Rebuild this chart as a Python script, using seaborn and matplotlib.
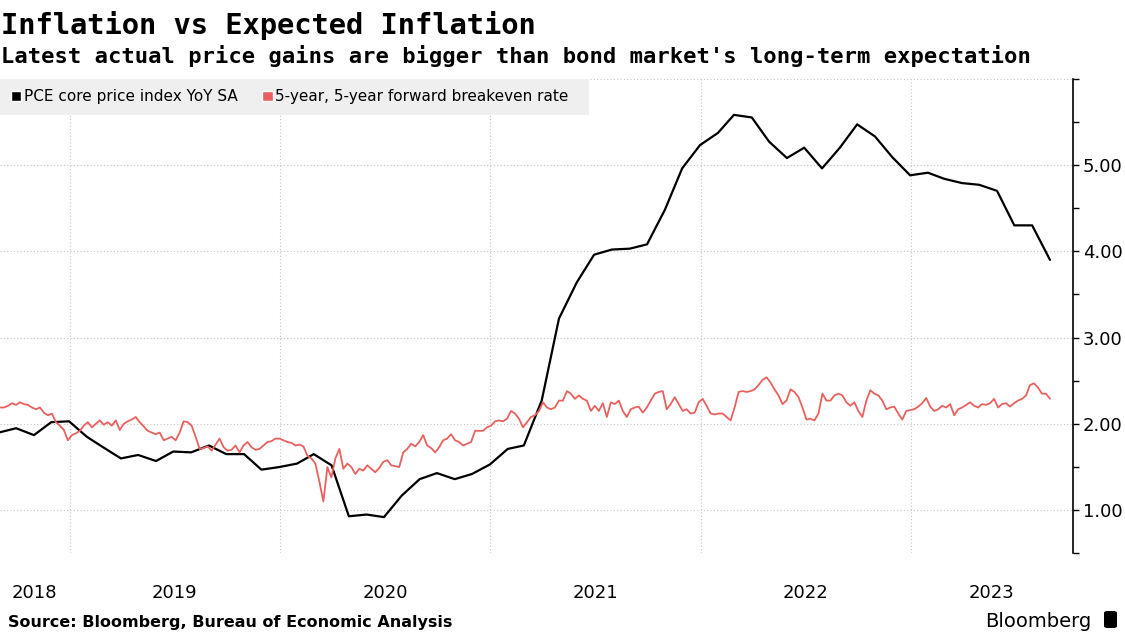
import pandas as pd
import matplotlib
matplotlib.use('Agg')
import matplotlib.pyplot as plt
from matplotlib.patches import Patch, FancyBboxPatch
from matplotlib.ticker import NullFormatter
import seaborn as sns

# PCE core price index YoY SA, monthly Aug 2018 .. Aug 2023 (plotted at month end)
pce_core = [
    1.90, 1.95, 1.87, 2.02, 2.03,
    1.85, 1.73, 1.60, 1.64, 1.57, 1.68, 1.67, 1.75, 1.65, 1.65, 1.47, 1.50,
    1.54, 1.65, 1.52, 0.93, 0.95, 0.92, 1.17, 1.36, 1.43, 1.36, 1.42, 1.53,
    1.71, 1.75, 2.27, 3.22, 3.64, 3.96, 4.02, 4.03, 4.08, 4.48, 4.96, 5.23,
    5.37, 5.58, 5.55, 5.27, 5.08, 5.20, 4.96, 5.20, 5.47, 5.33, 5.09, 4.88,
    4.91, 4.84, 4.79, 4.77, 4.70, 4.30, 4.30, 3.90,
]

# 5-year, 5-year forward breakeven rate, roughly weekly Sep 2018 .. Aug 2023
breakeven = [
    2.19, 2.19, 2.21, 2.24, 2.22, 2.25, 2.23, 2.22, 2.19, 2.17,
    2.19, 2.13, 2.10, 2.12, 2.02, 1.98, 1.93, 1.81, 1.87, 1.89,
    1.92, 1.98, 2.02, 1.96, 2.00, 2.04, 1.99, 2.02, 1.98, 2.04,
    1.93, 2.00, 2.03, 2.05, 2.08, 2.02, 1.97, 1.92, 1.90, 1.88,
    1.90, 1.81, 1.83, 1.85, 1.81, 1.90, 2.03, 2.02, 1.98, 1.85,
    1.71, 1.72, 1.74, 1.69, 1.76, 1.83, 1.73, 1.69, 1.70, 1.75,
    1.67, 1.75, 1.79, 1.73, 1.70, 1.71, 1.75, 1.79, 1.80, 1.83,
    1.83, 1.81, 1.79, 1.78, 1.75, 1.76, 1.74, 1.63, 1.60, 1.54,
    1.33, 1.10, 1.50, 1.38, 1.60, 1.71, 1.48, 1.54, 1.50, 1.42,
    1.48,
    1.46, 1.52, 1.48, 1.44, 1.49, 1.56, 1.58, 1.52, 1.51, 1.50,
    1.67, 1.71, 1.77, 1.74, 1.79, 1.87, 1.75, 1.72, 1.67, 1.73,
    1.81, 1.83, 1.88, 1.81, 1.79, 1.75, 1.77, 1.79, 1.92, 1.92,
    1.92, 1.96, 1.98, 2.03, 2.04, 2.03, 2.06, 2.15, 2.12, 2.06,
    1.96, 2.02, 2.08, 2.10, 2.15, 2.25, 2.19, 2.17, 2.19, 2.27,
    2.27, 2.38, 2.35, 2.29, 2.33, 2.29, 2.27, 2.15, 2.21, 2.15,
    2.24, 2.08, 2.25, 2.23, 2.27, 2.15, 2.08, 2.17, 2.19, 2.20,
    2.13, 2.19, 2.27, 2.35, 2.37, 2.38, 2.17, 2.23, 2.31, 2.23,
    2.15, 2.17, 2.12, 2.13, 2.25, 2.29, 2.21,
    2.12, 2.11, 2.12, 2.12, 2.08, 2.04, 2.19, 2.37, 2.38, 2.37,
    2.38, 2.40, 2.45, 2.51, 2.54, 2.48, 2.40, 2.33, 2.23, 2.27,
    2.40, 2.37, 2.31, 2.19, 2.05, 2.06, 2.04, 2.12, 2.35, 2.27,
    2.27, 2.33, 2.35, 2.33, 2.25, 2.21, 2.25, 2.15, 2.08, 2.27,
    2.39, 2.35, 2.33, 2.27, 2.17, 2.19, 2.20, 2.12, 2.05, 2.15,
    2.16, 2.17, 2.20, 2.24, 2.30, 2.20, 2.15, 2.17, 2.21, 2.19,
    2.23, 2.10, 2.17, 2.19, 2.22, 2.25, 2.21, 2.19, 2.23, 2.22,
    2.24, 2.29, 2.19, 2.23, 2.24, 2.20, 2.24, 2.27, 2.29, 2.33,
    2.45, 2.47, 2.42, 2.35, 2.35, 2.29,
]

years = [2018, 2019, 2020, 2021, 2022, 2023]
y_ticks = [1, 2, 3, 4, 5, 6]
y_labels = ['1.00', '2.00', '3.00', '4.00', '5.00', '']
y_minor = [0.5, 1.5, 2.5, 3.5, 4.5, 5.5]
series_names = ['PCE core price index YoY SA', '5-year, 5-year forward breakeven rate  ']

PINK = '#e8615f'
x_start, x_end = pd.Timestamp('2018-09-02'), pd.Timestamp('2023-10-10')

pce_dates = pd.date_range('2018-09-01', periods=len(pce_core), freq='MS') - pd.Timedelta(days=1)
be_dates = pd.date_range('2018-09-02', '2023-08-31', periods=len(breakeven))

sns.set_style('white')
plt.rcParams['font.family'] = ['DejaVu Sans']
plt.rcParams['text.color'] = 'black'
plt.rcParams['xtick.color'] = 'black'
plt.rcParams['ytick.color'] = 'black'

fig = plt.figure(figsize=(11.25, 6.32), dpi=100)
ax = fig.add_axes([0, 0.1244, 0.9538, 0.7512])

sns.lineplot(x=pce_dates, y=pce_core, ax=ax, color='black', linewidth=1.6)
sns.lineplot(x=be_dates, y=breakeven, ax=ax, color=PINK, linewidth=1.3)

ax.set_xlim(x_start, x_end)
ax.set_ylim(0.5, 6.0)
ax.set_xlabel('')
ax.set_ylabel('')

# year boundaries carry the grid, labels sit in the middle of the visible part
bounds = [pd.Timestamp(f'{y}-01-01') for y in years[1:]]
edges = [x_start] + bounds + [x_end]
mids = [a + (b - a) / 2 for a, b in zip(edges[:-1], edges[1:])]
ax.set_xticks(bounds)
ax.xaxis.set_major_formatter(NullFormatter())
ax.set_xticks(mids, minor=True)
ax.set_xticklabels([str(y) for y in years], minor=True)
ax.tick_params(axis='x', which='both', length=0)
ax.tick_params(axis='x', which='minor', pad=22, labelsize=13)

ax.yaxis.tick_right()
ax.set_yticks(y_ticks)
ax.set_yticklabels(y_labels)
ax.set_yticks(y_minor, minor=True)
ax.tick_params(axis='y', which='both', direction='out', length=4, width=1,
               color='black', labelsize=13, pad=3)

ax.grid(which='major', color='#c4c4c4', linestyle=(0, (1, 2)), linewidth=0.8)
for s in ['left', 'top', 'bottom']:
    ax.spines[s].set_visible(False)
ax.spines['right'].set_color('black')
ax.spines['right'].set_linewidth(1.2)

handles = [Patch(facecolor='black'), Patch(facecolor=PINK)]
leg = ax.legend(handles, series_names, loc='upper left', bbox_to_anchor=(0, 1),
                ncol=2, frameon=True, facecolor='#efefef', edgecolor='none',
                fancybox=False, framealpha=1, fontsize=11.0, handlelength=0.7,
                handleheight=0.7, handletextpad=0.15, columnspacing=1.6,
                borderaxespad=0, borderpad=0.7)

fig.text(0.001, 1 - 34 / 632, 'Inflation vs Expected Inflation', fontsize=20.7,
         fontweight='bold', family='DejaVu Sans Mono', va='baseline')
fig.text(0.001, 1 - 63 / 632,
         "Latest actual price gains are bigger than bond market's long-term expectation",
         fontsize=15.95, fontweight='bold', family='DejaVu Sans Mono', va='baseline')
fig.text(8 / 1125, 1 - 627 / 632, 'Source: Bloomberg, Bureau of Economic Analysis',
         fontsize=11.5, fontweight='bold', va='baseline')
fig.text(985 / 1125, 1 - 627 / 632, 'Bloomberg', fontsize=14, va='baseline')
fig.patches.append(FancyBboxPatch((1104 / 1125, 1 - 628 / 632), 13 / 1125, 17 / 632,
                                  boxstyle='round,pad=0,rounding_size=0.003',
                                  transform=fig.transFigure, facecolor='black',
                                  edgecolor='none'))

fig.savefig('out.png', dpi=100)
